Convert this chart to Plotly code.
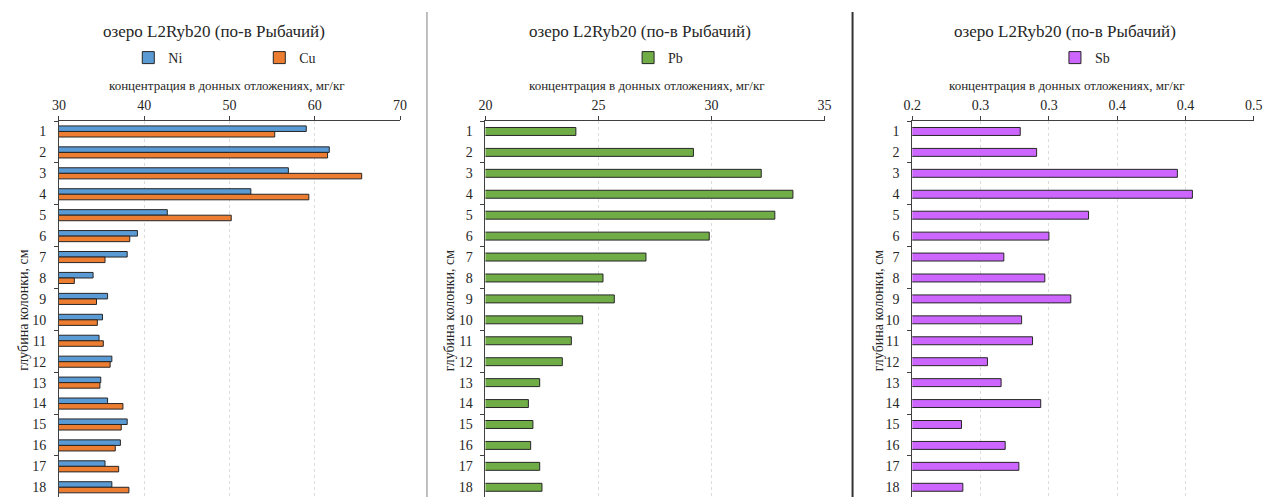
import plotly.graph_objects as go

# Depth of core sample, cm
depth = list(range(1, 19))

# Concentrations in bottom sediments, mg/kg
ni = [59.0, 61.7, 56.9, 52.5, 42.7, 39.2, 38.0, 34.0, 35.7, 35.1,
      34.7, 36.2, 34.9, 35.7, 38.0, 37.2, 35.4, 36.2]
cu = [55.3, 61.5, 65.5, 59.3, 50.2, 38.3, 35.4, 31.8, 34.4, 34.5,
      35.2, 36.0, 34.8, 37.5, 37.3, 36.6, 37.0, 38.2]
pb = [24.0, 29.2, 32.2, 33.6, 32.8, 29.9, 27.1, 25.2, 25.7, 24.3,
      23.8, 23.4, 22.4, 21.9, 22.1, 22.0, 22.4, 22.5]
sb = [0.279, 0.291, 0.394, 0.405, 0.329, 0.300, 0.267, 0.297, 0.316, 0.280,
      0.288, 0.255, 0.265, 0.294, 0.236, 0.268, 0.278, 0.237]

# Axis ticks
ni_cu_ticks = [30, 40, 50, 60, 70]
pb_ticks = [20, 25, 30, 35]
sb_ticks = [0.2, 0.25, 0.3, 0.35, 0.4, 0.45]
sb_ticktext = ["0.2", "0.3", "0.3", "0.4", "0.4", "0.5"]

chart_title = "озеро L2Ryb20 (по-в Рыбачий)"
x_title = "концентрация в донных отложениях, мг/кг"
y_title = "глубина колонки, см"

FONT = "Liberation Serif"
TXT = "#262626"
AX = "#404040"
OUTLINE = dict(color="#262626", width=1)
W, H = 1268, 497


def px(x):
    return x / W


def py(y):
    return (H - y) / H


fig = go.Figure()
fig.add_trace(go.Bar(y=depth, x=ni, orientation="h", name="Ni",
                     marker=dict(color="#5B9BD5", line=OUTLINE),
                     xaxis="x", yaxis="y", legend="legend"))
fig.add_trace(go.Bar(y=depth, x=cu, orientation="h", name="Cu",
                     marker=dict(color="#ED7D31", line=OUTLINE),
                     xaxis="x", yaxis="y", legend="legend"))
fig.add_trace(go.Bar(y=depth, x=pb, orientation="h", name="Pb", width=0.38,
                     marker=dict(color="#70AD47", line=OUTLINE),
                     xaxis="x2", yaxis="y2", legend="legend2"))
fig.add_trace(go.Bar(y=depth, x=sb, orientation="h", name="Sb", width=0.38,
                     marker=dict(color="#CC66FF", line=OUTLINE),
                     xaxis="x3", yaxis="y3", legend="legend3"))

plot_top = 121
y_domain = [0, py(plot_top)]
y_range = [0.5 + (H - plot_top) / 20.93, 0.5]
minor_vals = [0.5 + 2 * k for k in range(10)]


def xaxis(dom, rng, tickvals, ticktext, anchor, overflow):
    return dict(domain=dom, range=rng, side="top", anchor=anchor,
                tickmode="array", tickvals=tickvals, ticktext=ticktext,
                showline=True, linecolor=AX, linewidth=1,
                ticks="outside", ticklen=4, tickcolor=AX,
                showgrid=True, gridcolor="#dcdcdc", griddash="dot", gridwidth=1,
                zeroline=False, fixedrange=True, ticklabeloverflow=overflow,
                tickfont=dict(family=FONT, size=14, color=TXT))


def yaxis(anchor):
    return dict(domain=y_domain, range=y_range, anchor=anchor,
                tickmode="array", tickvals=depth,
                ticktext=[str(d) for d in depth],
                showline=True, linecolor=AX, linewidth=1,
                ticks="outside", ticklen=9, tickcolor="rgba(0,0,0,0)",
                minor=dict(tickvals=minor_vals, ticks="outside", ticklen=4,
                           tickcolor=AX, showgrid=False),
                showgrid=False, zeroline=False, fixedrange=True,
                tickfont=dict(family=FONT, size=14, color=TXT))


d1 = [px(50.7), px(396.7)]
d2 = [px(483.3), px(827.3)]
d3 = [px(916.3), px(1262.8)]

legend_font = dict(family=FONT, size=14, color=TXT)

fig.update_layout(
    width=W, height=H, autosize=False,
    margin=dict(l=0, r=0, t=0, b=0),
    paper_bgcolor="white", plot_bgcolor="white",
    barmode="group", bargap=0.47, bargroupgap=0,
    font=dict(family=FONT, color=TXT),
    xaxis=xaxis(d1, [30, 70], ni_cu_ticks, [str(v) for v in ni_cu_ticks], "y", "allow"),
    xaxis2=xaxis(d2, [20, 35], pb_ticks, [str(v) for v in pb_ticks], "y2", "allow"),
    xaxis3=xaxis(d3, [0.2, 0.45], sb_ticks, sb_ticktext, "y3", "hide past div"),
    yaxis=yaxis("x"),
    yaxis2=yaxis("x2"),
    yaxis3=yaxis("x3"),
    legend=dict(orientation="h", x=px(121), xanchor="left", y=py(58), yanchor="middle",
                entrywidth=86, entrywidthmode="pixels", itemwidth=30,
                font=legend_font, bgcolor="rgba(0,0,0,0)"),
    legend2=dict(orientation="h", x=px(628), xanchor="left", y=py(58), yanchor="middle",
                 itemwidth=30, font=legend_font, bgcolor="rgba(0,0,0,0)"),
    legend3=dict(orientation="h", x=px(1061), xanchor="left", y=py(58), yanchor="middle",
                 itemwidth=30, font=legend_font, bgcolor="rgba(0,0,0,0)"),
)

annotations = []
for cx in (208, 640, 1071.7):
    annotations.append(dict(text=chart_title, x=px(cx), y=py(31.7), xref="paper", yref="paper",
                            xanchor="center", yanchor="middle", showarrow=False,
                            font=dict(family=FONT, size=17, color=TXT)))
for cx in (221.5, 647, 1073.3):
    annotations.append(dict(text=x_title, x=px(cx), y=py(85), xref="paper", yref="paper",
                            xanchor="center", yanchor="middle", showarrow=False,
                            font=dict(family=FONT, size=13, color=TXT)))
for cx in (14, 446.7, 881.7):
    annotations.append(dict(text=y_title, x=px(cx), y=py(310), xref="paper", yref="paper",
                            xanchor="center", yanchor="middle", showarrow=False, textangle=-90,
                            font=dict(family=FONT, size=14, color=TXT)))
fig.update_layout(annotations=annotations)

# Panel separators
fig.add_shape(type="line", xref="paper", yref="paper", x0=px(424), x1=px(424),
              y0=0, y1=py(12), line=dict(color="#7f7f7f", width=1))
fig.add_shape(type="line", xref="paper", yref="paper", x0=px(855.7), x1=px(855.7),
              y0=0, y1=py(12), line=dict(color="#333333", width=2))

# Fixed-size page without default body margin or scrollbars
fig.write_html(
    "out.html",
    config={"responsive": False},
    post_script="document.body.style.margin='0';document.body.style.overflow='hidden';",
)
